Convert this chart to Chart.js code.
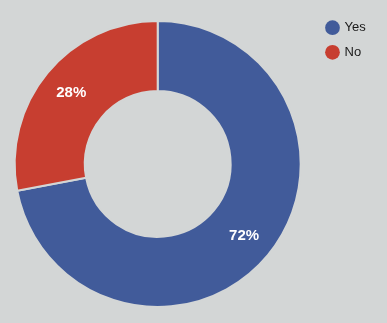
<html>
<head>
<script src="https://cdn.jsdelivr.net/npm/chart.js"></script>
<style>
  body { margin: 0; background: #d3d6d6; }
  canvas { display: block; }
</style>
</head>
<body>
<canvas id="myChart" width="387" height="323"></canvas>
<script>
var labels = ['Yes', 'No'];
var values = [72, 28];
var colors = ['#415b9a', '#c73e30'];
var bgColor = '#d3d6d6';

// white percentage text in the middle of each slice
var sliceLabels = {
    id: 'sliceLabels',
    afterDatasetsDraw: function(chart) {
        var ctx = chart.ctx;
        var data = chart.data.datasets[0].data;
        var total = data.reduce(function(a, b) { return a + b; }, 0);
        chart.getDatasetMeta(0).data.forEach(function(arc, i) {
            var p = arc.getProps(['x', 'y', 'startAngle', 'endAngle', 'innerRadius', 'outerRadius'], true);
            var mid = (p.startAngle + p.endAngle) / 2;
            var r = p.innerRadius + (p.outerRadius - p.innerRadius) * 0.56;
            ctx.save();
            ctx.fillStyle = '#ffffff';
            ctx.font = 'bold 15px "Liberation Sans", Arial, sans-serif';
            ctx.textAlign = 'center';
            ctx.textBaseline = 'middle';
            ctx.fillText(Math.round(data[i] / total * 100) + '%', p.x + Math.cos(mid) * r, p.y + Math.sin(mid) * r);
            ctx.restore();
        });
    }
};

var ctx = document.getElementById('myChart').getContext('2d');
window.myChart = new Chart(ctx, {
    type: 'doughnut',
    data: {
        labels: labels,
        datasets: [{
            data: values,
            backgroundColor: colors,
            borderColor: bgColor,
            borderWidth: 2,
            radius: 143,
            cutout: '51%'
        }]
    },
    options: {
        responsive: false,
        animation: false,
        layout: { padding: { top: 9.6, bottom: 4.6, left: 0, right: 11.3 } },
        plugins: {
            tooltip: { enabled: false },
            legend: {
                position: 'right',
                align: 'start',
                labels: {
                    usePointStyle: true,
                    pointStyle: 'circle',
                    boxWidth: 11,
                    boxHeight: 10.4,
                    padding: 11.6,
                    color: '#1a1a1a',
                    font: { family: '"Liberation Sans", Arial, sans-serif', size: 13 },
                    generateLabels: function(chart) {
                        var items = Chart.overrides.doughnut.plugins.legend.labels.generateLabels(chart);
                        items.forEach(function(it) { it.lineWidth = 0; });
                        return items;
                    }
                }
            }
        }
    },
    plugins: [sliceLabels]
});
</script>
</body>
</html>
